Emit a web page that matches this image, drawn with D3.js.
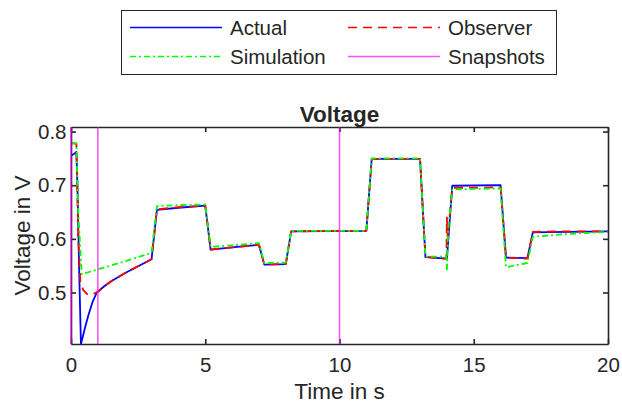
<!DOCTYPE html>
<html>
<head>
<meta charset="utf-8">
<script src="https://cdn.jsdelivr.net/npm/d3@7"></script>
<style>
  body { margin: 0; background: #fff; }
  text { font-family: "Liberation Sans", Arial, Helvetica, sans-serif; fill: #262626; }
</style>
</head>
<body>
<div id="container"></div>
<script>
let width = 622;
let height = 408;

// data
let actualT = [0, 0.1, 0.2, 0.24, 0.3, 0.37, 0.45, 0.55, 0.65, 0.8, 0.96, 1.25, 1.5, 2.0, 2.5, 3.0, 3.2, 4.0, 5.0, 5.2, 6.0, 7.0, 7.2, 8.0, 8.2, 11.0, 11.2, 13.0, 13.2, 14.0, 14.2, 16.0, 16.2, 17.0, 17.2, 18.5, 20];
let actualV = [0.755, 0.758, 0.762, 0.70, 0.55, 0.404, 0.42, 0.44, 0.458, 0.482, 0.500, 0.512, 0.521, 0.536, 0.549, 0.562, 0.654, 0.658, 0.662, 0.580, 0.584, 0.589, 0.552, 0.553, 0.614, 0.615, 0.749, 0.749, 0.566, 0.563, 0.699, 0.700, 0.565, 0.564, 0.612, 0.613, 0.614];

let observerT = [0, 0.2, 0.27, 0.35, 0.45, 0.6, 0.75, 1.0, 1.25, 1.5, 2.0, 2.5, 3.0, 3.2, 4.0, 5.0, 5.2, 6.0, 7.0, 7.2, 8.0, 8.2, 11.0, 11.2, 13.0, 13.2, 13.98, 14.0, 14.03, 14.06, 14.2, 16.0, 16.2, 17.0, 17.2, 18.5, 20];
let observerV = [0.778, 0.778, 0.60, 0.52, 0.505, 0.497, 0.496, 0.501, 0.512, 0.521, 0.536, 0.549, 0.562, 0.655, 0.659, 0.662, 0.580, 0.584, 0.589, 0.552, 0.553, 0.614, 0.615, 0.749, 0.749, 0.566, 0.563, 0.64, 0.60, 0.62, 0.695, 0.696, 0.565, 0.563, 0.613, 0.614, 0.614];

let simT = [0, 0.2, 0.27, 0.4, 1.0, 2.0, 3.0, 3.2, 4.0, 5.0, 5.2, 6.0, 7.0, 7.2, 8.0, 8.2, 11.0, 11.2, 13.0, 13.2, 13.98, 14.0, 14.05, 14.2, 15.0, 16.0, 16.2, 17.0, 17.2, 18.5, 20];
let simV = [0.778, 0.778, 0.65, 0.534, 0.543, 0.558, 0.574, 0.661, 0.663, 0.664, 0.585, 0.588, 0.592, 0.555, 0.556, 0.615, 0.615, 0.750, 0.750, 0.567, 0.567, 0.543, 0.62, 0.692, 0.693, 0.694, 0.547, 0.555, 0.604, 0.609, 0.613];

let snapshots = [0, 1, 10];

let xTicks = [0, 5, 10, 15, 20];
let yTicks = [0.5, 0.6, 0.7, 0.8];

let series = [
  { name: "Actual", t: actualT, v: actualV, color: "#0000ff", dash: null },
  { name: "Observer", t: observerT, v: observerV, color: "#ff0000", dash: "9,6" },
  { name: "Simulation", t: simT, v: simV, color: "#00ff00", dash: "6,3,2,3" }
];

let margin = { left: 71, right: 14, top: 127, bottom: 64 };
let yMin = 0.404, yMax = 0.8085;

let svg = d3.select("#container")
  .append("svg")
  .attr("width", width)
  .attr("height", height);

let x = d3.scaleLinear().domain([0, 20]).range([margin.left, width - margin.right]);
let y = d3.scaleLinear().domain([yMin, yMax]).range([height - margin.bottom, margin.top]);

let axisColor = "#262626";

let line = d3.line()
  .x(function (d) { return x(d[0]) })
  .y(function (d) { return y(d[1]) });

svg.append("defs").append("clipPath").attr("id", "clip")
  .append("rect")
  .attr("x", x(0) - 1).attr("y", y(yMax))
  .attr("width", x(20) - x(0) + 2).attr("height", y(yMin) - y(yMax));

let plot = svg.append("g").attr("clip-path", "url(#clip)");

series.forEach(function (s) {
  let pts = s.t.map(function (t, i) { return [t, s.v[i]] });
  plot.append("path")
    .datum(pts)
    .attr("fill", "none")
    .attr("stroke", s.color)
    .attr("stroke-width", 1.8)
    .attr("stroke-linejoin", "round")
    .attr("stroke-dasharray", s.dash)
    .attr("d", line);
});

// axes (MATLAB style: ticks inward, box on)
let xAxisB = d3.axisBottom(x).tickValues(xTicks).tickSize(-5).tickSizeOuter(0).tickPadding(13).tickFormat(d3.format("d"));
let xAxisT = d3.axisTop(x).tickValues(xTicks).tickSize(-5).tickSizeOuter(0).tickFormat("");
let yAxisL = d3.axisLeft(y).tickValues(yTicks).tickSize(-5).tickSizeOuter(0).tickPadding(4.5).tickFormat(d3.format(".1f"));
let yAxisR = d3.axisRight(y).tickValues(yTicks).tickSize(-5).tickSizeOuter(0).tickFormat("");

function styleAxis(g) {
  g.select(".domain").attr("stroke", axisColor).attr("stroke-width", 1.6);
  g.selectAll(".tick line").attr("stroke", axisColor).attr("stroke-width", 1.6);
  g.selectAll(".tick text").style("font-size", "20.5px").attr("fill", axisColor);
}

svg.append("g").attr("transform", `translate(0,${y(yMin)})`).call(xAxisB).call(styleAxis);
svg.append("g").attr("transform", `translate(0,${y(yMax)})`).call(xAxisT).call(styleAxis);
svg.append("g").attr("transform", `translate(${x(0)},0)`).call(yAxisL).call(styleAxis);
svg.append("g").attr("transform", `translate(${x(20)},0)`).call(yAxisR).call(styleAxis);

// snapshots drawn over the box
svg.append("g").attr("clip-path", "url(#clip)")
  .selectAll(".snap").data(snapshots)
  .enter().append("line")
  .attr("class", "snap")
  .attr("x1", function (d) { return x(d) })
  .attr("x2", function (d) { return x(d) })
  .attr("y1", y(yMin))
  .attr("y2", y(yMax))
  .attr("stroke", "#ff00ff")
  .attr("stroke-opacity", 0.7)
  .attr("stroke-width", 1.5);

// labels
svg.append("text")
  .attr("x", (x(0) + x(20)) / 2).attr("y", 121.5)
  .attr("text-anchor", "middle")
  .style("font-size", "22.5px").style("font-weight", "bold")
  .attr("fill", "#000")
  .text("Voltage");

svg.append("text")
  .attr("x", (x(0) + x(20)) / 2).attr("y", 399)
  .attr("text-anchor", "middle")
  .style("font-size", "22.5px")
  .text("Time in s");

svg.append("text")
  .attr("transform", `translate(30,${(y(yMin) + y(yMax)) / 2}) rotate(-90)`)
  .attr("text-anchor", "middle")
  .style("font-size", "22.5px")
  .text("Voltage in V");

// legend
let legend = svg.append("g");
legend.append("rect")
  .attr("x", 121.5).attr("y", 10.5)
  .attr("width", 435).attr("height", 64)
  .attr("fill", "#fff")
  .attr("stroke", axisColor)
  .attr("stroke-width", 1);

let legendItems = [
  { name: "Actual", color: "#0000ff", dash: null, lx: 130, ly: 27.5 },
  { name: "Observer", color: "#ff0000", dash: "9,6", lx: 348, ly: 27.5 },
  { name: "Simulation", color: "#00ff00", dash: "6,3,2,3", lx: 130, ly: 56.5 },
  { name: "Snapshots", color: "#ff00ff", dash: null, lx: 348, ly: 56.5 }
];

legendItems.forEach(function (d) {
  legend.append("line")
    .attr("x1", d.lx).attr("x2", d.lx + 92)
    .attr("y1", d.ly).attr("y2", d.ly)
    .attr("stroke", d.color)
    .attr("stroke-opacity", d.name == "Snapshots" ? 0.7 : 1)
    .attr("stroke-width", 1.6)
    .attr("stroke-dasharray", d.dash);
  legend.append("text")
    .attr("x", d.lx + 100).attr("y", d.ly + 7.5)
    .style("font-size", "20.5px")
    .attr("fill", "#000")
    .text(d.name);
});
</script>
</body>
</html>
